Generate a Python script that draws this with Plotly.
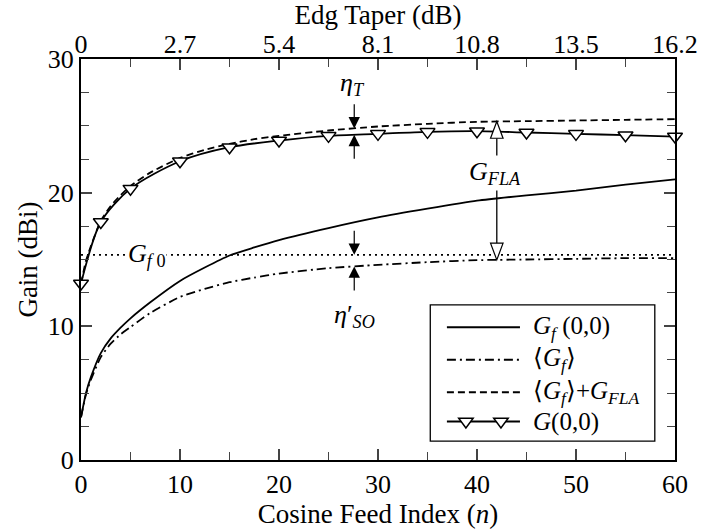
import numpy as np
import plotly.graph_objects as go

# ---- data -------------------------------------------------------------
n_curve = [0, 0.5, 1, 2, 3, 4, 5, 7, 10, 12.5, 15, 17.5, 20, 25, 30, 35, 40, 45, 50, 55, 60]
gf_boresight = [3.2, 5.0, 6.2, 8.0, 9.1, 9.9, 10.6, 11.8, 13.4, 14.4, 15.3, 15.9, 16.45,
                17.35, 18.15, 18.8, 19.4, 19.8, 20.15, 20.6, 21.0]
gf_average = [3.2, 4.9, 6.0, 7.7, 8.7, 9.4, 9.95, 11.0, 12.2, 12.8, 13.3, 13.65, 13.95,
              14.35, 14.6, 14.8, 14.95, 15.0, 15.05, 15.1, 15.1]
gf_avg_plus_fla = [13.2, 14.9, 16.0, 17.9, 19.0, 19.8, 20.5, 21.5, 22.6, 23.2, 23.65, 24.0,
                   24.25, 24.65, 24.95, 25.15, 25.3, 25.35, 25.4, 25.45, 25.5]

n_array = [0, 2, 5, 10, 15, 20, 25, 30, 35, 40, 45, 50, 55, 60]
g_array = [13.2, 17.8, 20.3, 22.35, 23.4, 23.9, 24.25, 24.4, 24.55, 24.6, 24.5, 24.4, 24.3, 24.2]

gf0_level = 15.35

x_ticks = [0, 10, 20, 30, 40, 50, 60]
y_ticks = [0, 10, 20, 30]
taper_ticks = [0, 2.7, 5.4, 8.1, 10.8, 13.5, 16.2]

series_names = ["<i>G<sub>f</sub></i> (0,0)",
                "⟨<i>G<sub>f</sub></i>⟩",
                "⟨<i>G<sub>f</sub></i>⟩+<i>G<sub>FLA</sub></i>",
                "<i>G</i>(0,0)"]

FONT = "Liberation Serif"
W, H = 709, 529
ML, MR, MT, MB = 81, 11, 59, 62
X_RANGE = [0, 60]
Y_RANGE = [0, 30]
PLOT_W = W - ML - MR
PLOT_H = H - MT - MB
px_per_x = PLOT_W / (X_RANGE[1] - X_RANGE[0])
px_per_y = PLOT_H / (Y_RANGE[1] - Y_RANGE[0])

LINE_W = 1.8
DASH_AVG = "9px,4px,2px,4px"
DASH_SUM = "7px,4px"
TRI_SIZE = 13

fig = go.Figure()

# reference level G_f0
fig.add_trace(go.Scatter(x=[X_RANGE[0], X_RANGE[1]], y=[gf0_level, gf0_level], mode="lines",
                         line=dict(color="black", width=1.7, dash="2px,4px"),
                         showlegend=False, hoverinfo="skip"))

fig.add_trace(go.Scatter(x=n_curve, y=gf_boresight, mode="lines",
                         line=dict(color="black", width=LINE_W, shape="spline", smoothing=0.6),
                         name=series_names[0], showlegend=False))
fig.add_trace(go.Scatter(x=n_curve, y=gf_average, mode="lines",
                         line=dict(color="black", width=LINE_W, dash=DASH_AVG,
                                   shape="spline", smoothing=0.6),
                         name=series_names[1], showlegend=False))
fig.add_trace(go.Scatter(x=n_curve, y=gf_avg_plus_fla, mode="lines",
                         line=dict(color="black", width=LINE_W, dash=DASH_SUM,
                                   shape="spline", smoothing=0.6),
                         name=series_names[2], showlegend=False))
fig.add_trace(go.Scatter(x=n_array, y=g_array, mode="lines+markers", cliponaxis=False,
                         line=dict(color="black", width=LINE_W, shape="spline", smoothing=0.8),
                         marker=dict(symbol="triangle-down", size=TRI_SIZE, color="white",
                                     line=dict(color="black", width=1.5)),
                         name=series_names[3], showlegend=False))

# ---- annotation geometry derived from the curves ---------------------
n_eta = 27.6
sum_at = float(np.interp(n_eta, n_curve, gf_avg_plus_fla))
g_at = float(np.interp(n_eta, n_array, g_array))
avg_at = float(np.interp(n_eta, n_curve, gf_average))
arrow_len = 26 / px_per_y

n_fla = 42.0
fla_top = float(np.interp(n_fla, n_curve, gf_avg_plus_fla))
fla_bot = float(np.interp(n_fla, n_curve, gf_average))

annotations = []


def arrow(x, tip, tail):
    annotations.append(dict(x=x, y=tip, ax=x, ay=tail, xref="x", yref="y", axref="x",
                            ayref="y", text="", showarrow=True, arrowhead=2, arrowsize=1.9,
                            arrowwidth=1.2, arrowcolor="black", standoff=0))


arrow(n_eta, sum_at, sum_at + arrow_len)
arrow(n_eta, g_at, g_at - arrow_len)
arrow(n_eta, gf0_level, gf0_level + arrow_len)
arrow(n_eta, avg_at, avg_at - arrow_len)

# hollow arrowheads and shaft of the G_FLA span
head_h = 17 / px_per_y
head_hw = 6.5 / px_per_x
shapes = [
    dict(type="line", xref="x", yref="y", x0=n_fla, x1=n_fla, y0=fla_bot + head_h,
         y1=fla_top - head_h, line=dict(color="black", width=1.3)),
    dict(type="path", xref="x", yref="y",
         path=f"M{n_fla},{fla_top} L{n_fla - head_hw},{fla_top - head_h} "
              f"L{n_fla + head_hw},{fla_top - head_h} Z",
         fillcolor="white", line=dict(color="black", width=1.2)),
    dict(type="path", xref="x", yref="y",
         path=f"M{n_fla},{fla_bot} L{n_fla - head_hw},{fla_bot + head_h} "
              f"L{n_fla + head_hw},{fla_bot + head_h} Z",
         fillcolor="white", line=dict(color="black", width=1.2)),
]

label_font = dict(family=FONT, size=26, color="black")
annotations += [
    dict(x=27.4, y=28.1, xref="x", yref="y", text="<i>η<sub>T</sub></i>",
         showarrow=False, font=label_font),
    dict(x=27.6, y=10.75, xref="x", yref="y", text="<i>η</i>′<sub><i>SO</i></sub>",
         showarrow=False, font=label_font),
    dict(x=6.6, y=gf0_level, xref="x", yref="y", text="<i>G</i><sub><i>f</i> 0</sub>",
         showarrow=False, font=label_font, bgcolor="white"),
    dict(x=41.8, y=21.5, xref="x", yref="y", text="<i>G<sub>FLA</sub></i>",
         showarrow=False, font=label_font, bgcolor="white"),
]

# ---- legend panel (paper coordinates) -------------------------------
leg_box = (0.588, 0.966, 0.047, 0.387)       # x0, x1, y0, y1
leg_rows = [0.331, 0.250, 0.169, 0.096]
leg_line = (0.616, 0.739)
leg_text_x = 0.757
leg_tri_x = [0.648, 0.707]
leg_styles = [None, DASH_AVG, DASH_SUM, None]

shapes.append(dict(type="rect", xref="paper", yref="paper", x0=leg_box[0], x1=leg_box[1],
                   y0=leg_box[2], y1=leg_box[3], fillcolor="white",
                   line=dict(color="black", width=1.3), layer="above"))
for name, yr, dash in zip(series_names, leg_rows, leg_styles):
    ln = dict(color="black", width=LINE_W)
    if dash:
        ln["dash"] = dash
    shapes.append(dict(type="line", xref="paper", yref="paper", x0=leg_line[0],
                       x1=leg_line[1], y0=yr, y1=yr, line=ln, layer="above"))
    annotations.append(dict(x=leg_text_x, y=yr, xref="paper", yref="paper", text=name,
                            showarrow=False, xanchor="left", yanchor="middle",
                            font=dict(family=FONT, size=25, color="black")))

# triangle symbols on the G(0,0) sample
tri_hw = 0.577 * TRI_SIZE / PLOT_W
tri_up = 0.25 * TRI_SIZE / PLOT_H
tri_dn = 0.5 * TRI_SIZE / PLOT_H
for tx in leg_tri_x:
    yr = leg_rows[3]
    shapes.append(dict(type="path", xref="paper", yref="paper",
                       path=f"M{tx - tri_hw},{yr + tri_up} L{tx + tri_hw},{yr + tri_up} "
                            f"L{tx},{yr - tri_dn} Z",
                       fillcolor="white", line=dict(color="black", width=1.5),
                       layer="above"))

tick_font = dict(family=FONT, size=26, color="black")
title_font = dict(family=FONT, size=27, color="black")
fig.update_layout(
    width=W, height=H, autosize=False,
    margin=dict(l=ML, r=MR, t=MT, b=MB),
    paper_bgcolor="white", plot_bgcolor="white",
    font=tick_font,
    xaxis=dict(range=X_RANGE, tickvals=x_ticks, ticks="inside", ticklen=11, tickwidth=1.6,
               minor=dict(dtick=5, ticks="inside", ticklen=8, tickwidth=1.4),
               showline=True, linewidth=2, linecolor="black", mirror="ticks",
               showgrid=False, zeroline=False, tickfont=tick_font,
               title=dict(text="Cosine Feed Index (<i>n</i>)", standoff=0, font=title_font)),
    xaxis2=dict(range=[0, 16.2], overlaying="x", side="top", anchor="y",
                tickvals=taper_ticks, ticktext=[f"{v:g}" for v in taper_ticks],
                ticks="", showline=False, showgrid=False, zeroline=False, tickfont=tick_font,
                title=dict(text="Edg Taper (dB)", standoff=0, font=title_font)),
    yaxis=dict(range=Y_RANGE, tickvals=y_ticks, ticks="inside", ticklen=11, tickwidth=1.6,
               minor=dict(dtick=2.5, ticks="inside", ticklen=8, tickwidth=1.4),
               showline=True, linewidth=2, linecolor="black", mirror="ticks",
               showgrid=False, zeroline=False, tickfont=tick_font,
               title=dict(text="Gain (dBi)", standoff=2, font=title_font)),
    showlegend=False,
    shapes=shapes,
    annotations=annotations,
)

# invisible trace so the top (taper) axis is laid out
fig.add_trace(go.Scatter(x=[0, 16.2], y=[None, None], xaxis="x2", yaxis="y",
                         mode="lines", showlegend=False, hoverinfo="skip"))

fig.write_html("out.html")
